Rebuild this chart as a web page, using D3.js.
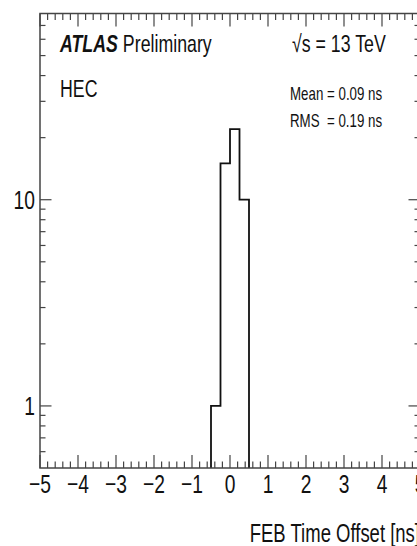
<!DOCTYPE html>
<html>
<head>
<meta charset="utf-8">
<script src="https://cdn.jsdelivr.net/npm/d3@7"></script>
<style>
  body { margin: 0; background: #fff; }
  svg { display: block; }
  text { font-family: "Liberation Sans", Arial, sans-serif; fill: #111; white-space: pre; }
</style>
</head>
<body>
<div id="chart"></div>
<script>
// histogram data: FEB time offsets in HEC
var binLow = [-0.5, -0.25, 0, 0.25];
var binHigh = [-0.25, 0, 0.25, 0.5];
var counts = [1, 15, 22, 10];

var xDomain = [-5, 5];
var yDomain = [0.5, 80];
var xTickValues = [-5, -4, -3, -2, -1, 0, 1, 2, 3, 4, 5];
var yTickValues = [1, 10];
var yTickLabels = ["1", "10"];

var W = 417, H = 546;
var frameL = 40, frameR = 420, frameT = 13.5, frameB = 468;
var sx = 0.74; // ROOT text looks horizontally squeezed

var svg = d3.select("#chart").append("svg").attr("width", W).attr("height", H);

var x = d3.scaleLinear().domain(xDomain).range([frameL, frameR]);
var y = d3.scaleLog().domain(yDomain).range([frameB, frameT]);

function label(txt, px, py, size, anchor, weight, style) {
    var t = svg.append("text")
        .attr("transform", "translate(" + px + "," + py + ") scale(" + sx + ",1)")
        .attr("font-size", size)
        .attr("text-anchor", anchor || "start");
    if (weight) t.attr("font-weight", weight);
    if (style) t.attr("font-style", style);
    t.text(txt);
    return t;
}

// minor ticks
var xMinor = d3.range(-5, 5.001, 0.2).filter(function (v) { return Math.abs(v - Math.round(v)) > 1e-6; });
var yMinor = [];
[0.1, 1, 10].forEach(function (dec) {
    for (var k = 2; k <= 9; k++) {
        var v = dec * k;
        if (v > yDomain[0] && v < yDomain[1] && yTickValues.indexOf(v) < 0) yMinor.push(v);
    }
});

var tickCol = "#444";
var g = svg.append("g").attr("stroke", tickCol).attr("stroke-width", 1.2);

xTickValues.forEach(function (v) {
    g.append("line").attr("x1", x(v)).attr("x2", x(v)).attr("y1", frameB).attr("y2", frameB - 13);
    g.append("line").attr("x1", x(v)).attr("x2", x(v)).attr("y1", frameT).attr("y2", frameT + 13);
});
xMinor.forEach(function (v) {
    g.append("line").attr("x1", x(v)).attr("x2", x(v)).attr("y1", frameB).attr("y2", frameB - 6.5);
    g.append("line").attr("x1", x(v)).attr("x2", x(v)).attr("y1", frameT).attr("y2", frameT + 6.5);
});
yTickValues.forEach(function (v) {
    g.append("line").attr("x1", frameL).attr("x2", frameL + 11.5).attr("y1", y(v)).attr("y2", y(v));
    g.append("line").attr("x1", frameR).attr("x2", frameR - 11.5).attr("y1", y(v)).attr("y2", y(v));
});
yMinor.forEach(function (v) {
    g.append("line").attr("x1", frameL).attr("x2", frameL + 5.5).attr("y1", y(v)).attr("y2", y(v));
    g.append("line").attr("x1", frameR).attr("x2", frameR - 5.5).attr("y1", y(v)).attr("y2", y(v));
});

// histogram outline
var pts = [[x(binLow[0]), frameB]];
counts.forEach(function (c, i) {
    pts.push([x(binLow[i]), y(c)]);
    pts.push([x(binHigh[i]), y(c)]);
});
pts.push([x(binHigh[binHigh.length - 1]), frameB]);
svg.append("path")
    .attr("d", d3.line()(pts))
    .attr("fill", "none")
    .attr("stroke", "#111")
    .attr("stroke-width", 1.8);

// frame
svg.append("rect")
    .attr("x", frameL).attr("y", frameT)
    .attr("width", frameR - frameL).attr("height", frameB - frameT)
    .attr("fill", "none").attr("stroke", tickCol).attr("stroke-width", 1.5);

// tick labels
xTickValues.forEach(function (v) {
    label(v < 0 ? "\u2212" + Math.abs(v) : String(v), x(v), 493, 26, "middle");
});
yTickValues.forEach(function (v, i) {
    label(yTickLabels[i], 35, y(v) + 9.5, 26, "end");
});

// axis title
label("FEB Time Offset [ns]", frameR, 542, 25, "end");

// annotations
var atlas = label("ATLAS", 60, 52, 24, "start", "bold", "italic");
var atlasW = atlas.node().getComputedTextLength() * sx;
label("Preliminary", 60 + atlasW + 5, 52, 24, "start");
label("HEC", 60, 97, 24, "start");
label("\u221As = 13 TeV", 292, 52, 24, "start");
label("Mean = 0.09 ns", 290, 100, 18, "start");
label("RMS  = 0.19 ns", 290, 127, 18, "start");
</script>
</body>
</html>
